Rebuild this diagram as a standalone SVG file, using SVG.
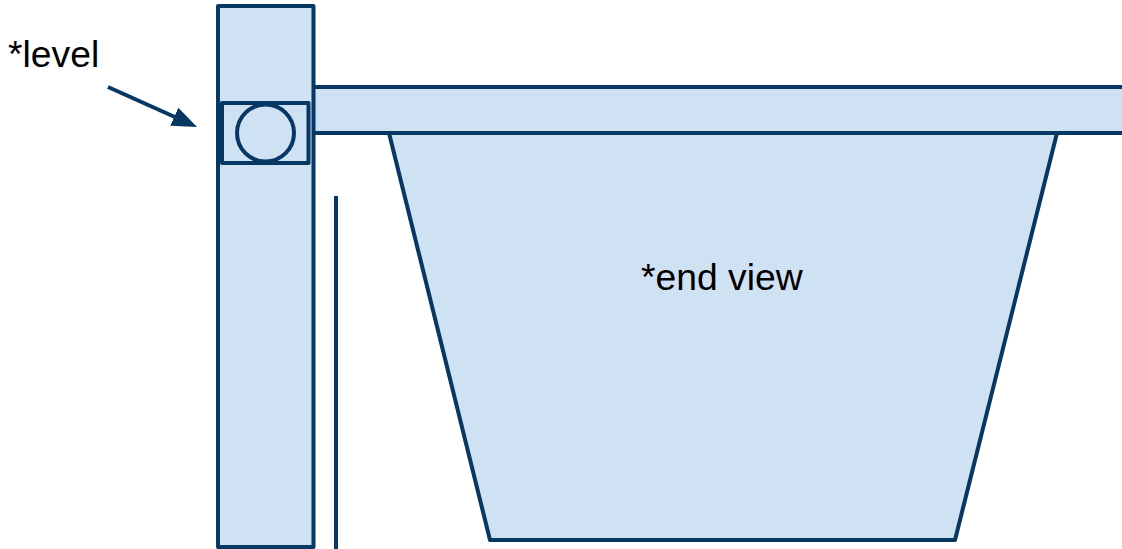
<svg xmlns="http://www.w3.org/2000/svg" width="1122" height="549" viewBox="0 0 1122 549">
<style>
.s{fill:#cfe2f3;stroke:#073763;stroke-width:4;stroke-linejoin:round}
.l{fill:none;stroke:#073763;stroke-width:4}
text{font-family:"Liberation Sans",Arial,sans-serif;font-size:37.300px;fill:#000}
</style>
<defs><marker id="a" markerUnits="userSpaceOnUse" markerWidth="30" markerHeight="24" refX="5" refY="12" orient="auto"><path d="M0 2L25 12L0 22Z" fill="#073763"/></marker></defs>
<rect width="1122" height="549" fill="#fff"/>
<g id="trough"><path class="s" d="M389 133H1057L955 540H490Z"/></g>
<g id="beam"><path class="s" d="M313 87H1124V133H313Z"/></g>
<g id="post"><rect class="s" x="218" y="6" width="95.500" height="541"/></g>
<g id="bracket"><rect class="s" x="222" y="103" width="86.500" height="60"/></g>
<g id="level"><circle class="s" cx="265.500" cy="133" r="28.500"/></g>
<g id="connectors"><path class="l" d="M108 87L178.800 118.800" marker-end="url(#a)"/><path class="l" d="M336 196V549"/></g>
<g id="label-level"><text x="8" y="67">*level</text></g>
<g id="label-end"><text x="641" y="290">*end view</text></g>
</svg>
